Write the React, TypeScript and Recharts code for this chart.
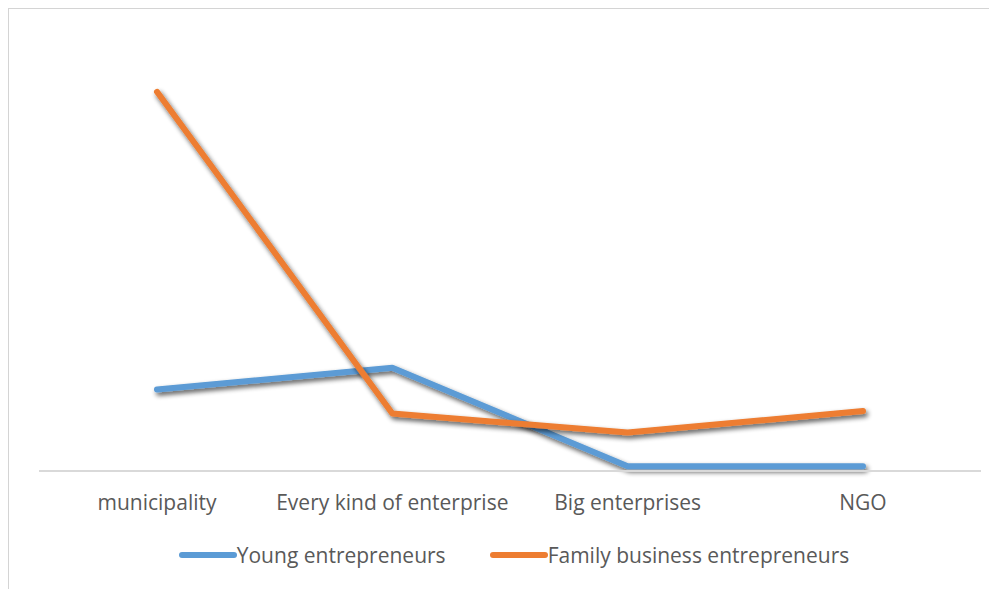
import React from "react";
import { LineChart, Line, XAxis, YAxis, Legend } from "recharts";

const categories = ["municipality", "Every kind of enterprise", "Big enterprises", "NGO"];
const youngEntrepreneurs = [17, 21.5, 1, 1];
const familyBusinessEntrepreneurs = [79, 12, 8, 12.5];
const seriesNames = ["Young entrepreneurs", "Family business entrepreneurs"];
const seriesColors = ["#5B9BD5", "#ED7D31"];

const data = categories.map((c, i) => ({
  category: c,
  young: youngEntrepreneurs[i],
  family: familyBusinessEntrepreneurs[i],
}));

const FONT = "'Open Sans', 'Noto Sans', sans-serif";

const LegendContent = () => (
  <div
    style={{
      display: "flex",
      justifyContent: "center",
      alignItems: "center",
      fontFamily: FONT,
      fontSize: 21,
      color: "#595959",
      height: 30,
      paddingLeft: 8,
    }}
  >
    {seriesNames.map((n, i) => (
      <div key={n} style={{ display: "flex", alignItems: "center", marginRight: i === 0 ? 44 : 0 }}>
        <svg width={58} height={10} style={{ display: "block" }}>
          <line x1={3} y1={5} x2={55} y2={5} stroke={seriesColors[i]} strokeWidth={6} strokeLinecap="round" />
        </svg>
        <span>{n}</span>
      </div>
    ))}
  </div>
);

export default function App() {
  return (
    <div
      style={{
        width: 988,
        height: 580,
        borderLeft: "1px solid #d4d4d4",
        borderTop: "1px solid #d4d4d4",
        position: "relative",
        background: "#fff",
      }}
    >
      <svg width={0} height={0} style={{ position: "absolute" }}>
        <defs>
          <filter id="lineShadow" x="-10%" y="-20%" width="120%" height="160%" filterUnits="objectBoundingBox">
            <feGaussianBlur in="SourceAlpha" stdDeviation="2.5" />
            <feOffset dx="2" dy="3" result="off" />
            <feComponentTransfer>
              <feFuncA type="linear" slope="0.65" />
            </feComponentTransfer>
            <feMerge>
              <feMergeNode />
              <feMergeNode in="SourceGraphic" />
            </feMerge>
          </filter>
        </defs>
      </svg>
      <style>{`.recharts-line-curve { filter: url(#lineShadow); }`}</style>
      <LineChart
        width={988}
        height={580}
        data={data}
        margin={{ top: 78, right: 16, left: 30, bottom: 58 }}
      >
        <XAxis
          dataKey="category"
          padding={{ left: 118, right: 118 }}
          axisLine={{ stroke: "#d9d9d9", strokeWidth: 2 }}
          tickLine={false}
          tick={{ fill: "#595959", fontSize: 21, fontFamily: FONT }}
          tickMargin={18}
          height={30}
        />
        <YAxis hide domain={[0, 80]} />
        <Legend verticalAlign="bottom" content={<LegendContent />} wrapperStyle={{ top: 531 }} />
        <Line
          dataKey="young"
          name={seriesNames[0]}
          stroke={seriesColors[0]}
          strokeWidth={6}
          strokeLinecap="round"
          strokeLinejoin="round"
          dot={false}
          activeDot={false}
          isAnimationActive={false}
        />
        <Line
          dataKey="family"
          name={seriesNames[1]}
          stroke={seriesColors[1]}
          strokeWidth={6}
          strokeLinecap="round"
          strokeLinejoin="round"
          dot={false}
          activeDot={false}
          isAnimationActive={false}
        />
      </LineChart>
    </div>
  );
}
